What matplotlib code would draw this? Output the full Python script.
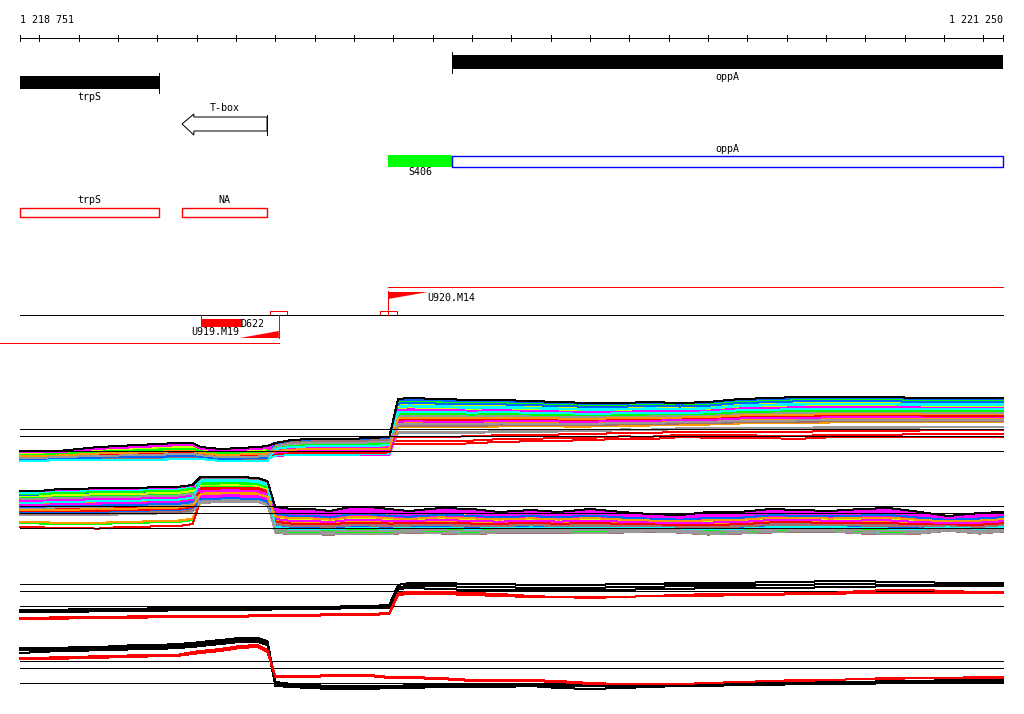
import matplotlib
matplotlib.use('Agg')
import numpy as np
import matplotlib.pyplot as plt
from matplotlib.patches import Rectangle, Polygon

# genomic window shown
START, END = 1218751, 1221250

# annotated genes (black bars)
gene_names = ['trpS', 'oppA']
gene_starts = [1218751, 1219849]
gene_ends = [1219104, 1221250]
gene_strands = ['-', '+']

# T-box riboswitch
tbox_name = 'T-box'
tbox_start, tbox_end = 1219163, 1219379

# transcription units
tu_names = ['S406', 'oppA']
tu_starts = [1219687, 1219849]
tu_ends = [1219849, 1221250]

# red boxes
seg_names = ['trpS', 'NA']
seg_starts = [1218751, 1219163]
seg_ends = [1219104, 1219379]

# promoters / terminators
up_name, up_pos, up_tip = 'U920.M14', 1219687, 1219788
um_name, um_pos, um_tail = 'U919.M19', 1219409, 1219310
down_name, down_start, down_end = 'D622', 1219211, 1219315

# probe positions for the signal tracks
POS = [1218751, 1218800, 1218850, 1218900, 1218950, 1219000, 1219050, 1219100,
       1219150, 1219190, 1219210, 1219260, 1219310, 1219355, 1219380, 1219400,
       1219440, 1219490, 1219540, 1219590, 1219640, 1219690, 1219712, 1219740,
       1219820, 1219900, 1219970, 1220050, 1220120, 1220200, 1220280, 1220350,
       1220430, 1220500, 1220580, 1220660, 1220730, 1220810, 1220890, 1220960,
       1221040, 1221110, 1221190, 1221250]

REF_LEVELS = [0, 15, 22]

# + strand, all conditions: upper / lower envelope and per-condition position
plus_top = [0, 0, 0, 2, 4, 5, 6, 7, 8, 8, 4, 2, 3, 4, 5, 8, 11, 12, 12, 12, 13, 14,
            52, 53, 52, 51, 51, 50, 49, 48, 48, 49, 48, 49, 52, 53, 54, 54, 54, 54, 53, 53, 53, 53]
plus_bot = [-10, -10, -9, -9, -9, -9, -9, -9, -8, -8, -8, -10, -10, -10, -10, -5, -4, -4, -4, -4, -4, -4,
            23, 23, 23, 23, 24, 24, 24, 24, 25, 25, 26, 26, 27, 27, 27, 28, 28, 28, 28, 28, 28, 28]
plus_fa = [0.00, 0.55, 0.30, 0.80, 0.12, 0.95, 0.42, 0.67, 0.20, 0.88, 0.05, 0.60, 0.35, 0.75, 0.15, 1.00,
           0.48, 0.70, 0.25, 0.92, 0.08, 0.58, 0.38, 0.83, 0.18, 0.97, 0.45, 0.64, 0.28, 0.86, 0.03, 0.52,
           0.33, 0.78, 0.10, 0.90, 0.40, 0.72, 0.22, 0.94, 0.07, 0.62, 0.36, 0.81, 0.14, 0.99, 0.50, 0.68]
plus_fb = [0.00, 0.70, 0.40, 0.15, 0.85, 0.30, 0.60, 0.95, 0.20, 0.50, 0.75, 0.10, 0.45, 0.90, 0.35, 0.65,
           0.05, 0.80, 0.25, 0.55, 1.00, 0.38, 0.72, 0.12, 0.88, 0.32, 0.62, 0.18, 0.92, 0.48, 0.78, 0.08,
           0.42, 0.68, 0.22, 0.97, 0.52, 0.28, 0.82, 0.14, 0.58, 0.86, 0.36, 0.03, 0.74, 0.46, 0.64, 0.26]
plus_fc = [0.02, 0.45, 0.20, 0.05, 0.60, 0.35, 0.80, 1.18, 0.25, 0.90, 0.50, 1.45, 0.15, 0.08, 0.70, 0.40,
           0.95, 1.15, 0.30, 0.65, 0.85, 1.55, 0.55, 0.10, 0.75, 0.22, 0.98, 0.62, 0.33, 0.88, 0.48, 1.30,
           0.12, 0.68, 0.42, 0.28, 0.82, 0.58, 0.18, 0.93, 0.38, 0.72, 0.52, 0.16, 0.78, 0.45, 0.66, 0.87]

# - strand, all conditions
minus_top = [37, 37, 39, 39, 40, 40, 40, 41, 41, 43, 51, 51, 51, 50, 47, 21, 19, 19, 17, 21, 21, 19,
             18, 17, 20, 19, 16, 18, 16, 19, 16, 14, 13, 16, 16, 19, 18, 17, 19, 20, 16, 12, 15, 16]
minus_bot = [12, 12, 12, 12, 12, 13, 13, 14, 14, 16, 25, 26, 26, 26, 23, -5, -7, -7, -7, -7, -7, -7,
             -6, -5, -6, -7, -5, -5, -5, -6, -5, -4, -5, -7, -6, -5, -4, -4, -6, -7, -6, -3, -6, -4]
minus_fa = [0.00, 0.50, 1.30, 0.20, 0.75, 0.35, 1.25, 0.60, 0.10, 0.85, 0.45, 1.45, 0.30, 0.70, 0.15, 0.95,
            0.55, 0.25, 0.80, 0.40, 0.05, 0.65, 0.90, 0.18, 0.52, 0.78, 0.33, 0.98, 0.62, 0.12, 0.42, 0.72,
            0.27, 0.88, 0.58, 0.08, 0.48, 0.68, 0.22, 0.93, 0.38, 0.82, 0.14, 0.63, 0.02, 0.47, 0.76, 0.32]
minus_fb = [0.00, 0.40, 0.85, 0.15, 0.65, 0.30, 0.95, 0.50, 0.20, 0.02, 0.75, 0.88, 0.35, 0.55, 0.10, 0.80,
            0.45, 0.25, 0.70, 0.05, 0.60, 0.90, 0.38, 0.18, 0.72, 0.48, 0.28, 0.98, 0.58, 0.08, 0.68, 0.42,
            0.22, 0.82, 0.52, 0.12, 0.62, 0.92, 0.32, 0.03, 0.78, 0.46, 0.26, 0.86, 0.56, 0.16, 0.66, 1.00]
minus_fc = [0.03, 0.55, 0.85, 0.30, 0.10, 0.70, 0.45, 0.47, 0.25, 0.60, 0.15, 0.80, 0.40, 0.65, 0.20, 0.90,
            0.50, 0.75, 0.35, 0.98, 0.12, 0.58, 0.88, 0.28, 0.05, 0.68, 0.42, 0.57, 0.22, 0.62, 0.18, 0.78,
            0.48, 0.72, 0.32, 0.84, 0.52, 0.96, 0.38, 0.66, 0.08, 0.56, 0.82, 0.26, 0.46, 0.76, 0.36, 0.86]

COND_COLORS = ['#ff00ff', 'red', '#00ff00', '#0066ff', '#ff00ff', '#00ffff', '#ff9900', '#999999', '#ccff00', '#a07070']

# summary tracks (black = replicates of one average, red = other)
sum_plus_black = [
    [-4, -4, -4, -3, -3, -3, -3, -2, -2, -2, -2, -2, -2, -2, -2, -2, -2, -1, -1, 0, 0, 1,
     21, 23, 23, 22, 22, 21, 21, 21, 22, 22, 23, 23, 23, 24, 24, 25, 25, 24, 24, 23, 23, 23],
    [-5, -5, -5, -4, -4, -4, -4, -3, -3, -3, -3, -3, -3, -3, -3, -3, -3, -2, -2, -2, -1, -1,
     19, 20, 20, 19, 19, 18, 18, 18, 19, 19, 20, 20, 20, 21, 21, 22, 22, 21, 21, 22, 22, 22],
    [-6, -6, -6, -6, -5, -5, -5, -5, -4, -4, -4, -4, -4, -4, -4, -3, -3, -3, -3, -2, -2, -2,
     17, 18, 17, 16, 16, 16, 16, 16, 16, 17, 17, 18, 18, 18, 18, 19, 19, 20, 20, 20, 20, 20],
]
sum_plus_red = [
    [-12, -12, -11, -11, -11, -11, -10, -10, -10, -10, -10, -10, -10, -9, -9, -9, -9, -9, -8, -8, -8, -7,
     13, 14, 14, 13, 12, 10, 9, 9, 9, 10, 11, 12, 12, 12, 13, 13, 15, 16, 16, 15, 14, 14],
    [-13, -13, -13, -12, -12, -12, -12, -11, -11, -11, -11, -11, -11, -10, -10, -10, -10, -10, -9, -9, -9, -8,
     11, 12, 12, 11, 10, 9, 9, 8, 9, 10, 10, 10, 11, 11, 12, 12, 13, 13, 13, 13, 13, 13],
]
sum_minus_black = [
    [35, 35, 35, 36, 36, 37, 38, 38, 39, 40, 41, 43, 45, 45, 42, 1, -1, -2, -3, -3, -3, -3,
     -3, -2, -2, -1, -1, -1, -1, -1, -2, -1, -1, 0, 0, 0, 1, 1, 1, 2, 2, 3, 3, 3],
    [33, 33, 34, 34, 35, 35, 36, 36, 37, 38, 39, 41, 43, 43, 40, -1, -3, -4, -5, -5, -5, -4,
     -4, -3, -3, -2, -2, -2, -3, -3, -3, -2, -2, -1, -1, -1, 0, 0, 0, 1, 1, 1, 2, 2],
    [30, 31, 32, 32, 33, 33, 34, 34, 35, 36, 37, 39, 41, 41, 38, -3, -4, -5, -6, -6, -6, -5,
     -5, -5, -4, -4, -4, -3, -5, -6, -5, -4, -3, -3, -2, -2, -1, -1, -1, 0, 0, 0, 1, 1],
]
sum_minus_red = [
    [25, 25, 26, 26, 27, 27, 28, 28, 28, 31, 32, 34, 37, 38, 33, 7, 7, 7, 8, 8, 8, 6,
     6, 6, 5, 3, 3, 3, 2, 0, -1, -1, -1, 0, 1, 2, 3, 3, 4, 5, 5, 5, 5, 5],
    [24, 24, 24, 25, 25, 26, 26, 27, 27, 29, 30, 32, 35, 36, 31, 6, 6, 6, 7, 7, 7, 5,
     5, 5, 4, 2, 2, 2, 1, -1, -1, -1, -1, 0, 1, 2, 2, 3, 4, 4, 5, 5, 6, 6],
]

# ---------------------------------------------------------------- layout
W, H = 1024, 714
LW = 0.72  # one pixel
bp_px = (END - START) / 983.0
X0 = START - 20 * bp_px
X1 = X0 + W * bp_px
FONT = dict(family='DejaVu Sans Mono', fontsize=7.2, color='black')
PIX = dict(lw=LW, antialiased=False)

fig = plt.figure(figsize=(W / 100, H / 100), dpi=100)
ax = fig.add_axes([0, 0, 1, 1])
ax.set_xlim(X0, X1)
ax.set_ylim(H, 0)
ax.axis('off')

# ruler
ax.hlines(38, START, END, color='black', **PIX)
ticks = [START] + list(range(1218800, END, 100)) + [END]
ax.vlines(ticks, 35, 41, color='black', **PIX)
ax.text(START, 20, f'{START:,}'.replace(',', ' '), ha='left', va='center', **FONT)
ax.text(END, 20, f'{END:,}'.replace(',', ' '), ha='right', va='center', **FONT)

# genes
for name, s, e, strand in zip(gene_names, gene_starts, gene_ends, gene_strands):
    top, bot = (55, 69) if strand == '+' else (76, 89)
    ax.add_patch(Rectangle((s, top), e - s, bot - top, color='black', lw=0))
    tick = s if strand == '+' else e
    ax.vlines(tick, top - 3, bot + 4, color='black', **PIX)
    ax.text((s + e) / 2, bot + 8, name, ha='center', va='center', **FONT)

# T-box arrow
head = 30
arrow = [(tbox_start, 124), (tbox_start + head, 114), (tbox_start + head, 117), (tbox_end, 117),
         (tbox_end, 131), (tbox_start + head, 131), (tbox_start + head, 135)]
ax.add_patch(Polygon(arrow, closed=True, facecolor='white', edgecolor='black', lw=LW))
ax.vlines(tbox_end, 115, 135, color='black', **PIX)
ax.text((tbox_start + tbox_end) / 2, 108, tbox_name, ha='center', va='center', **FONT)

# transcription units
ax.add_patch(Rectangle((tu_starts[0], 155), tu_ends[0] - tu_starts[0], 12, color='#00ff00', lw=0))
ax.text((tu_starts[0] + tu_ends[0]) / 2, 172, tu_names[0], ha='center', va='center', **FONT)
ax.add_patch(Rectangle((tu_starts[1], 155.5), tu_ends[1] - tu_starts[1], 11, facecolor='none',
                       edgecolor='#0000ff', lw=LW * 1.4))
ax.text((tu_starts[1] + tu_ends[1]) / 2, 149, tu_names[1], ha='center', va='center', **FONT)

# red segments
for name, s, e in zip(seg_names, seg_starts, seg_ends):
    ax.add_patch(Rectangle((s, 207.5), e - s, 9.5, facecolor='none', edgecolor='red', lw=LW * 1.4))
    ax.text((s + e) / 2, 200, name, ha='center', va='center', **FONT)

# promoter / terminator rows
ax.hlines(315, START, END, color='black', **PIX)
ax.hlines(287, up_pos, END, color='red', **PIX)
ax.hlines(343, X0, um_pos, color='red', **PIX)
ax.vlines(up_pos, 291, 315, color='red', **PIX)
ax.add_patch(Polygon([(up_pos, 292), (up_tip, 292), (up_pos, 299)], color='red', lw=0))
ax.text(up_tip - 2, 298, up_name, ha='left', va='center', **FONT)
ax.vlines(um_pos, 315, 338, color='red', **PIX)
ax.add_patch(Polygon([(um_tail, 338), (um_pos, 331), (um_pos, 338)], color='red', lw=0))
ax.text(um_tail - 2, 332, um_name, ha='right', va='center', **FONT)
for p in (up_pos, um_pos):
    ax.add_patch(Rectangle((p - 22, 311), 44, 4, facecolor='none', edgecolor='red', lw=LW))
ax.vlines(down_start, 315, 320, color='red', **PIX)
ax.add_patch(Rectangle((down_start, 319), down_end - down_start, 8, color='red', lw=0))
ax.text(down_end - 3, 324, down_name, ha='left', va='center', **FONT)


# ---------------------------------------------------------------- signal tracks
def panel(pref, vlo, vhi):
    a = fig.add_axes([0, 1 - (pref - vlo) / H, 1, (vhi - vlo) / H])
    a.set_xlim(X0, X1)
    a.set_ylim(vlo, vhi)
    a.axis('off')
    return a


def fan(a, top, bot, fracs, segs):
    top = np.array(top, float)
    bot = np.array(bot, float)
    for i in range(len(fracs[0])):
        f = np.zeros(len(POS))
        for (s, e), fr in zip(segs, fracs):
            f[s:e] = fr[i]
        a.plot(POS, top + f * (bot - top), color=COND_COLORS[i % len(COND_COLORS)],
               clip_on=False, **PIX)
    # highest condition drawn in black
    a.plot(POS, top, color='black', clip_on=False, **PIX)
    a.hlines(REF_LEVELS, START, END, color='black', **PIX)


p1 = panel(451, -15, 60)
fan(p1, plus_top, plus_bot, [plus_fa, plus_fb, plus_fc], [(0, 15), (15, 22), (22, 44)])
p2 = panel(528, -12, 55)
fan(p2, minus_top, minus_bot, [minus_fa, minus_fb, minus_fc], [(0, 10), (10, 15), (15, 44)])

for pref, blacks, reds, lo, hi in [(606, sum_plus_black, sum_plus_red, -16, 30),
                                   (683, sum_minus_black, sum_minus_red, -8, 50)]:
    a = panel(pref, lo, hi)
    a.hlines(REF_LEVELS, START, END, color='black', **PIX)
    for ys in blacks:
        a.plot(POS, ys, color='black', clip_on=False, **PIX)
    for ys in reds:
        a.plot(POS, ys, color='red', clip_on=False, **PIX)

fig.savefig('out.png', dpi=100, facecolor='white')
